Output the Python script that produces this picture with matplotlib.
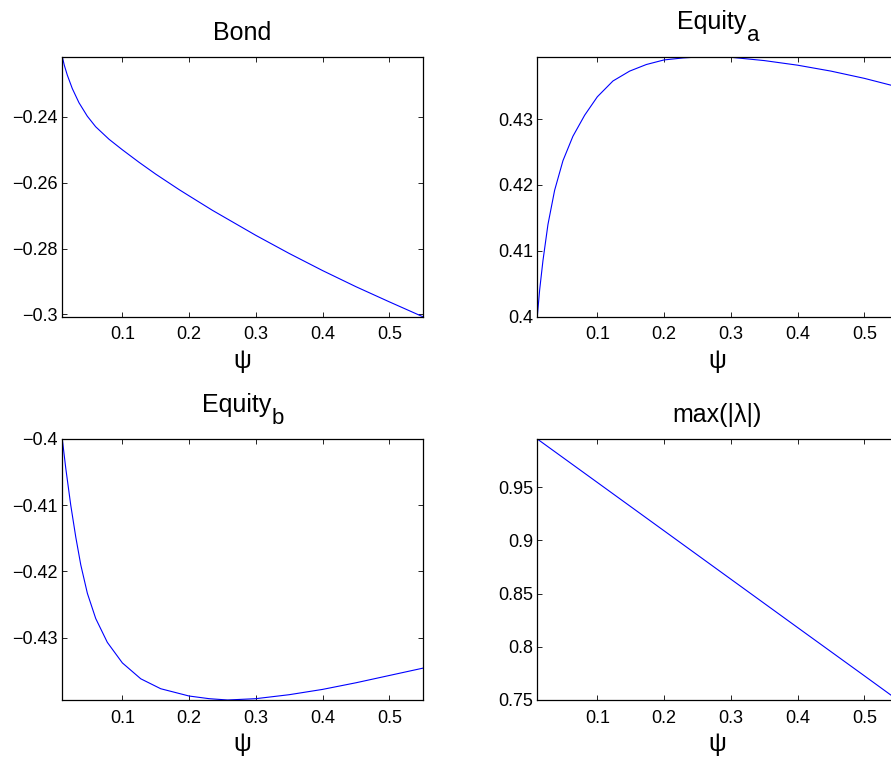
import numpy as np
import matplotlib
matplotlib.use('Agg')
import matplotlib.pyplot as plt
from matplotlib.transforms import offset_copy

plt.rcParams['font.family'] = ['Liberation Sans', 'DejaVu Sans']

# values
psi_bond = [0.01, 0.013, 0.0175, 0.025, 0.035, 0.0475, 0.06, 0.08, 0.10, 0.125, 0.15,
            0.185, 0.20, 0.235, 0.30, 0.35, 0.40, 0.45, 0.50, 0.55]
bond = [-0.2217, -0.2243, -0.2273, -0.2314, -0.2357, -0.2398, -0.2430, -0.2468, -0.2500,
        -0.2538, -0.2574, -0.2621, -0.2640, -0.2684, -0.2760, -0.2815, -0.2867, -0.2916,
        -0.2962, -0.3007]

psi_eqa = [0.01, 0.0136, 0.0185, 0.026, 0.036, 0.0485, 0.0634, 0.081, 0.10, 0.1234,
           0.1484, 0.1734, 0.20, 0.2285, 0.26, 0.30, 0.35, 0.40, 0.45, 0.50, 0.55]
equity_a = [0.4000, 0.4041, 0.4085, 0.4140, 0.4192, 0.4237, 0.4274, 0.4306, 0.4334, 0.4358,
            0.4373, 0.4383, 0.4390, 0.4393, 0.4395, 0.4394, 0.4389, 0.4382, 0.4373, 0.4362, 0.4349]

psi_eqb = [0.01, 0.0152, 0.0227, 0.0302, 0.0377, 0.0476, 0.0601, 0.0775, 0.10, 0.1276,
           0.1575, 0.20, 0.23, 0.2577, 0.30, 0.35, 0.40, 0.45, 0.50, 0.55]
equity_b = [-0.4000, -0.4044, -0.4100, -0.4148, -0.4190, -0.4233, -0.4271, -0.4307, -0.4338,
            -0.4362, -0.4377, -0.4388, -0.4392, -0.4394, -0.4392, -0.4386, -0.4378, -0.4368,
            -0.4357, -0.4346]

psi_lam = [0.01, 0.10, 0.20, 0.30, 0.40, 0.50, 0.55]
max_lam = [0.9954, 0.9545, 0.9090, 0.8635, 0.8180, 0.7726, 0.7498]

xticks = [0.1, 0.2, 0.3, 0.4, 0.5]
xticklabels = ['0.1', '0.2', '0.3', '0.4', '0.5']

yticks_bond = [-0.3, -0.28, -0.26, -0.24]
ylabels_bond = ['\u22120.3', '\u22120.28', '\u22120.26', '\u22120.24']
yticks_eqa = [0.4, 0.41, 0.42, 0.43]
ylabels_eqa = ['0.4', '0.41', '0.42', '0.43']
yticks_eqb = [-0.43, -0.42, -0.41, -0.4]
ylabels_eqb = ['\u22120.43', '\u22120.42', '\u22120.41', '\u22120.4']
yticks_lam = [0.75, 0.8, 0.85, 0.9, 0.95]
ylabels_lam = ['0.75', '0.8', '0.85', '0.9', '0.95']

fig = plt.figure(figsize=(8.91, 7.57), dpi=100)

# title: (main text, subscript, pad in pt) -- subscript drawn as its own text
panels = [
    ([0.0699, 0.5817, 0.4045, 0.3435], psi_bond, bond, 'Bond', None, 12, yticks_bond, ylabels_bond),
    ([0.6030, 0.5817, 0.4045, 0.3435], psi_eqa, equity_a, 'Equity', 'a', 0, yticks_eqa, ylabels_eqa),
    ([0.0699, 0.0753, 0.4045, 0.3448], psi_eqb, equity_b, 'Equity', 'b', 0, yticks_eqb, ylabels_eqb),
    ([0.6030, 0.0753, 0.4045, 0.3448], psi_lam, max_lam, 'max(|\u03bb|)', None, 12.5, yticks_lam, ylabels_lam),
]

for rect, x, y, title, sub, pad, yt, yl in panels:
    ax = fig.add_axes(rect)
    ax.plot(x, y, color='blue', linewidth=0.8)
    ax.set_xlim(min(x), max(x))
    ax.set_ylim(min(y), max(y))
    ax.set_xticks(xticks)
    ax.set_xticklabels(xticklabels)
    ax.set_yticks(yt)
    ax.set_yticklabels(yl)
    ax.tick_params(direction='in', top=True, right=True, length=3.5, width=0.6,
                   labelsize=13)
    ax.tick_params(axis='x', pad=7)
    ax.tick_params(axis='y', pad=3)
    for s in ax.spines.values():
        s.set_linewidth(0.9)
    if sub is None:
        ax.set_title(title, fontsize=18, pad=pad)
    else:
        ax.text(0.5, 1, title, fontsize=18, ha='center', va='baseline',
                transform=offset_copy(ax.transAxes, fig, x=-5.6, y=27.4, units='dots'))
        ax.text(0.5, 1, sub, fontsize=16, ha='left', va='baseline',
                transform=offset_copy(ax.transAxes, fig, x=29.5, y=15.3, units='dots'))
    ax.set_xlabel('\u03c8', fontsize=18, labelpad=4)

fig.savefig('out.png', dpi=100)
